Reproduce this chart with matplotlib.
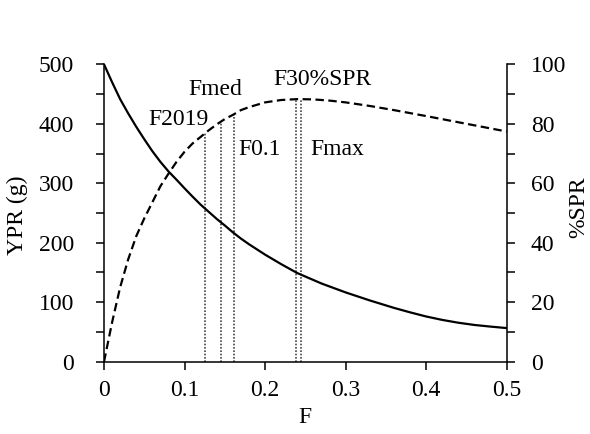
import matplotlib
matplotlib.use("Agg")
import matplotlib.pyplot as plt
from matplotlib.ticker import MultipleLocator

plt.rcParams['font.family'] = ['Liberation Serif', 'DejaVu Serif']
plt.rcParams['font.size'] = 17

# yield per recruit (g), dashed curve, left axis
F_ypr = [0, 0.01, 0.02, 0.03, 0.04, 0.05, 0.06, 0.07, 0.08, 0.09, 0.10, 0.11, 0.12,
         0.13, 0.14, 0.15, 0.16, 0.17, 0.18, 0.20, 0.22, 0.24, 0.26, 0.28, 0.30,
         0.33, 0.36, 0.40, 0.45, 0.50]
ypr = [0, 66, 125, 172, 211, 241, 268, 295, 316, 336, 353, 367, 378,
       389, 399, 408, 415, 423, 428, 436, 440, 441.5, 441, 439, 436,
       430, 423, 413, 400, 387]

# spawning potential ratio (%), solid curve, right axis
F_spr = [0, 0.01, 0.02, 0.03, 0.04, 0.05, 0.06, 0.07, 0.08, 0.09, 0.10, 0.11, 0.12,
         0.13, 0.14, 0.15, 0.16, 0.17, 0.18, 0.20, 0.22, 0.24, 0.27, 0.30, 0.33,
         0.36, 0.38, 0.40, 0.42, 0.44, 0.46, 0.48, 0.50]
spr = [100, 94, 88.3, 83.5, 79, 74.8, 70.8, 67.2, 64, 61.2, 58.3, 55.5, 52.8,
       50.4, 48, 45.8, 43.5, 41.4, 39.5, 36, 32.8, 29.8, 26.3, 23.3, 20.6,
       18.1, 16.6, 15.2, 14.05, 13.1, 12.35, 11.8, 11.3]

# reference points
ref_names = ['F2019', 'Fmed', 'F0.1', 'F30%SPR', 'Fmax']
ref_F = [0.125, 0.145, 0.162, 0.239, 0.245]
ref_top = [385, 401, 416, 441, 441]
label_pos = [(0.0546, 398), (0.1043, 448), (0.1664, 347), (0.2099, 465), (0.2558, 347)]

x_ticks = [0, 0.1, 0.2, 0.3, 0.4, 0.5]
x_labels = ['0', '0.1', '0.2', '0.3', '0.4', '0.5']

fig = plt.figure(figsize=(5.9, 4.34), dpi=100)
ax = fig.add_axes([0.1763, 0.1666, 0.6825, 0.6852])
ax2 = ax.twinx()

for f, t in zip(ref_F, ref_top):
    ax.plot([f, f], [0, t], color='#444444', lw=1.2, linestyle=(0, (1, 1)))
ax.plot(F_ypr, ypr, color='black', lw=1.6, dashes=(3.8, 2))
ax2.plot(F_spr, spr, color='black', lw=1.6)

for name, (x, y) in zip(ref_names, label_pos):
    ax.text(x, y, name, ha='left', va='baseline')

ax.set_xlim(0, 0.5)
ax.set_ylim(0, 500)
ax2.set_ylim(0, 100)

ax.set_xticks(x_ticks)
ax.set_xticklabels(x_labels)
ax.set_yticks(range(0, 501, 100))
ax.yaxis.set_minor_locator(MultipleLocator(50))
ax2.set_yticks(range(0, 101, 20))
ax2.yaxis.set_minor_locator(MultipleLocator(10))

for s in ['top', 'right']:
    ax.spines[s].set_visible(False)
for s in ['top', 'left', 'bottom']:
    ax2.spines[s].set_visible(False)
for s in ['left', 'bottom']:
    ax.spines[s].set_linewidth(1.1)
ax2.spines['right'].set_linewidth(1.1)

ax.tick_params(axis='y', which='both', direction='out', length=5.5, width=1.1, pad=16)
ax.tick_params(axis='x', direction='out', length=5.5, width=1.1, pad=8)
ax2.tick_params(axis='y', which='both', direction='out', length=5.5, width=1.1, pad=12)

ax.set_xlabel('F')
ax.xaxis.set_label_coords(0.499, -0.152)
ax.set_ylabel('YPR (g)')
ax.yaxis.set_label_coords(-0.189, 0.494)
ax2.set_ylabel('%SPR')
ax2.yaxis.set_label_coords(1.152, 0.521)

fig.savefig('out.png', dpi=100)
